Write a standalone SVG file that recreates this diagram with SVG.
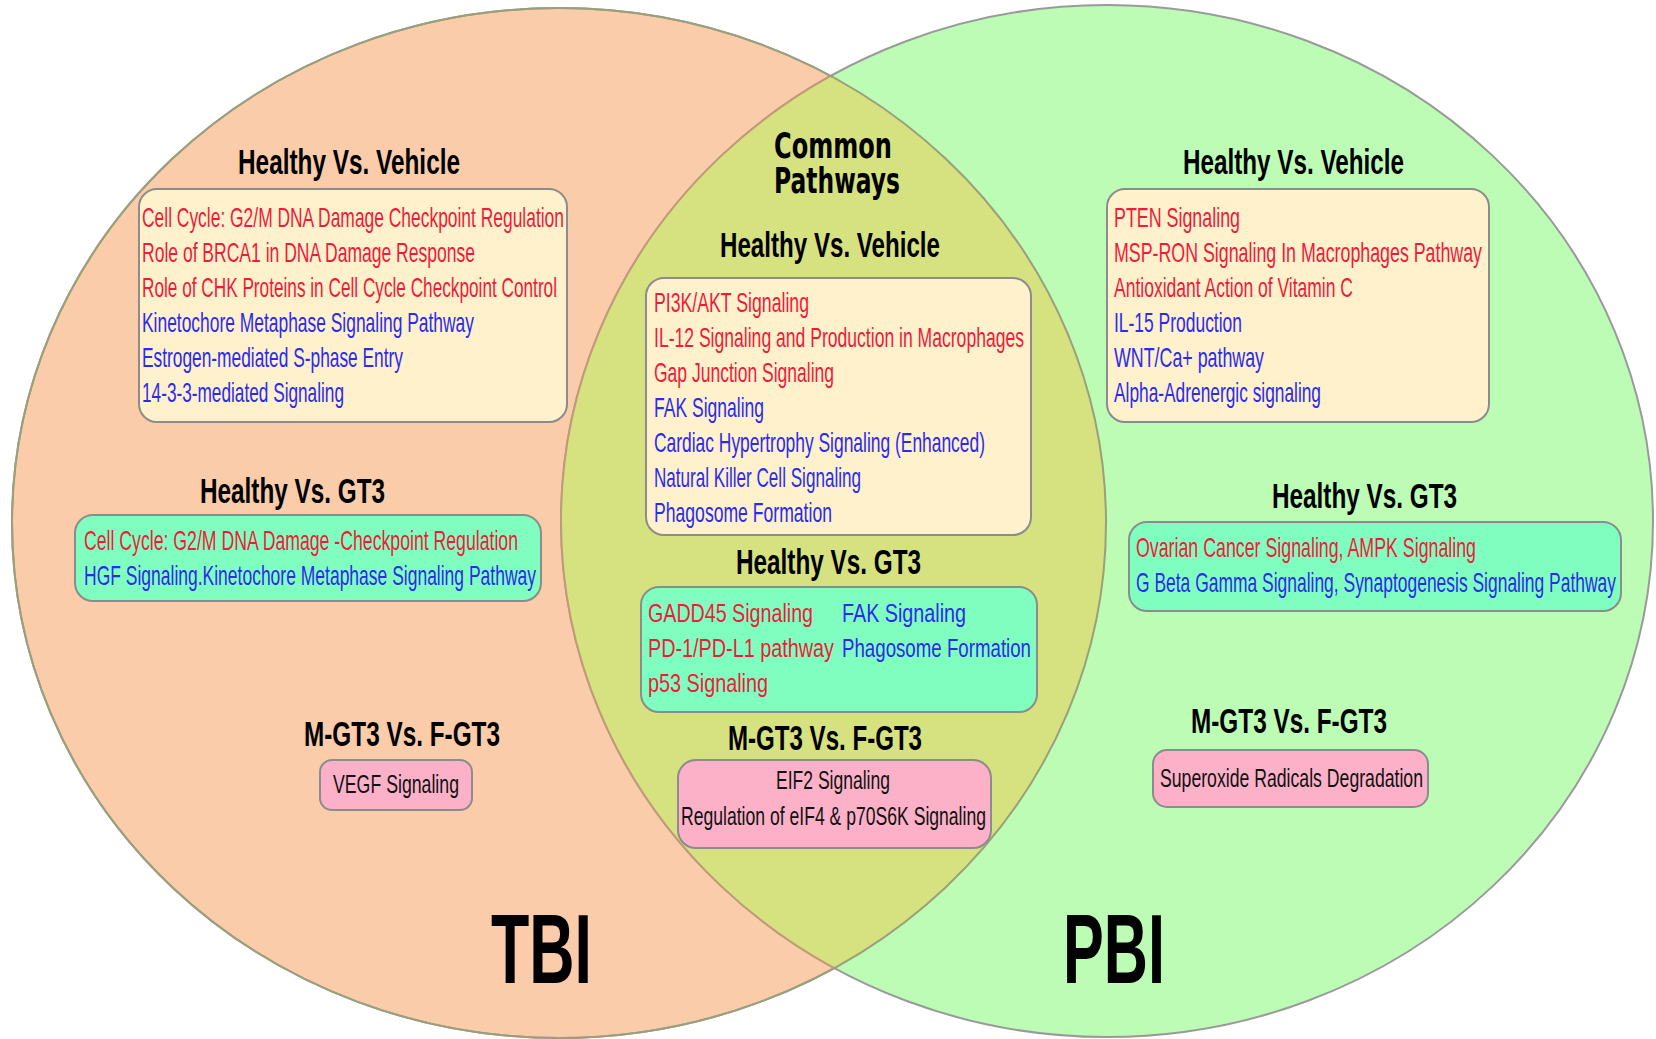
<svg xmlns="http://www.w3.org/2000/svg" width="1656" height="1039" viewBox="0 0 1656 1039">
  <defs>
    <clipPath id="clipTbi">
      <ellipse cx="559" cy="523" rx="547" ry="515"/>
    </clipPath>
    <style>
      .title { font-family: "Liberation Sans", Arial, sans-serif; font-weight: bold; font-size: 35px; fill: #000; }
      .big { font-family: "Liberation Sans", Arial, sans-serif; font-weight: bold; font-size: 98px; fill: #000; }
      .common { font-family: "DejaVu Sans", "Liberation Sans", sans-serif; font-weight: bold; font-size: 36px; fill: #000; }
      .item { font-family: "Liberation Sans", Arial, sans-serif; font-size: 28px; }
      .item2 { font-family: "Liberation Sans", Arial, sans-serif; font-size: 25px; }
      .red { fill: #EE1B3B; }
      .blue { fill: #2B2BEE; }
      .black { fill: #111; }
      .box { stroke: #8C8C8C; stroke-width: 2; }
      .cream { fill: #FEF1CC; }
      .aqua { fill: #80FEC0; }
      .pink { fill: #FDB1C9; }
    </style>
  </defs>

  <rect width="1656" height="1039" fill="#FFFFFF"/>

  <!-- Venn sets -->
  <g id="set-tbi">
    <ellipse cx="559" cy="523" rx="547" ry="515" fill="#FBCCA9" stroke="#9A9A9A" stroke-width="2"/>
  </g>
  <g id="set-pbi">
    <ellipse cx="1107" cy="521" rx="546" ry="516" fill="#BCFCB5" stroke="#9A9A9A" stroke-width="2"/>
  </g>
  <g id="set-common">
    <ellipse cx="1107" cy="521" rx="546" ry="516" fill="#D6E180" stroke="#C29A78" stroke-width="2" clip-path="url(#clipTbi)"/>
    <ellipse cx="559" cy="523" rx="547" ry="515" fill="none" stroke="#9AA07A" stroke-width="2"/>
  </g>

  <!-- TBI: Healthy Vs. Vehicle -->
  <g id="tbi-healthy-vehicle">
    <text class="title" x="238" y="174" textLength="222" lengthAdjust="spacingAndGlyphs">Healthy Vs. Vehicle</text>
    <rect class="box cream" x="139" y="189" width="428" height="233" rx="18"/>
    <text class="item red" x="142" y="227" textLength="422" lengthAdjust="spacingAndGlyphs">Cell Cycle: G2/M DNA Damage Checkpoint Regulation</text>
    <text class="item red" x="142" y="262" textLength="333" lengthAdjust="spacingAndGlyphs">Role of BRCA1 in DNA Damage Response</text>
    <text class="item red" x="142" y="297" textLength="415" lengthAdjust="spacingAndGlyphs">Role of CHK Proteins in Cell Cycle Checkpoint Control</text>
    <text class="item blue" x="142" y="332" textLength="332" lengthAdjust="spacingAndGlyphs">Kinetochore Metaphase Signaling Pathway</text>
    <text class="item blue" x="142" y="367" textLength="261" lengthAdjust="spacingAndGlyphs">Estrogen-mediated S-phase Entry</text>
    <text class="item blue" x="142" y="402" textLength="202" lengthAdjust="spacingAndGlyphs">14-3-3-mediated Signaling</text>
  </g>

  <!-- TBI: Healthy Vs. GT3 -->
  <g id="tbi-healthy-gt3">
    <text class="title" x="200" y="503" textLength="185" lengthAdjust="spacingAndGlyphs">Healthy Vs. GT3</text>
    <rect class="box aqua" x="75" y="515" width="466" height="86" rx="18"/>
    <text class="item red" x="84" y="550" textLength="434" lengthAdjust="spacingAndGlyphs">Cell Cycle: G2/M DNA Damage -Checkpoint Regulation</text>
    <text class="item blue" x="84" y="585" textLength="452" lengthAdjust="spacingAndGlyphs">HGF Signaling.Kinetochore Metaphase Signaling Pathway</text>
  </g>

  <!-- TBI: M-GT3 Vs. F-GT3 -->
  <g id="tbi-male-female">
    <text class="title" x="304" y="746" textLength="196" lengthAdjust="spacingAndGlyphs">M-GT3 Vs. F-GT3</text>
    <rect class="box pink" x="320" y="760" width="152" height="50" rx="12"/>
    <text class="item2 black" x="333" y="793" textLength="126" lengthAdjust="spacingAndGlyphs">VEGF Signaling</text>
  </g>

  <!-- Common pathways -->
  <g id="common-heading">
    <text class="common" x="774" y="158" textLength="118" lengthAdjust="spacingAndGlyphs">Common</text>
    <text class="common" x="774" y="193" textLength="126" lengthAdjust="spacingAndGlyphs">Pathways</text>
  </g>

  <g id="common-healthy-vehicle">
    <text class="title" x="720" y="257" textLength="220" lengthAdjust="spacingAndGlyphs">Healthy Vs. Vehicle</text>
    <rect class="box cream" x="646" y="278" width="385" height="257" rx="18"/>
    <text class="item red" x="654" y="312" textLength="155" lengthAdjust="spacingAndGlyphs">PI3K/AKT Signaling</text>
    <text class="item red" x="654" y="347" textLength="370" lengthAdjust="spacingAndGlyphs">IL-12 Signaling and Production in Macrophages</text>
    <text class="item red" x="654" y="382" textLength="180" lengthAdjust="spacingAndGlyphs">Gap Junction Signaling</text>
    <text class="item blue" x="654" y="417" textLength="110" lengthAdjust="spacingAndGlyphs">FAK Signaling</text>
    <text class="item blue" x="654" y="452" textLength="331" lengthAdjust="spacingAndGlyphs">Cardiac Hypertrophy Signaling (Enhanced)</text>
    <text class="item blue" x="654" y="487" textLength="207" lengthAdjust="spacingAndGlyphs">Natural Killer Cell Signaling</text>
    <text class="item blue" x="654" y="522" textLength="178" lengthAdjust="spacingAndGlyphs">Phagosome Formation</text>
  </g>

  <g id="common-healthy-gt3">
    <text class="title" x="736" y="574" textLength="185" lengthAdjust="spacingAndGlyphs">Healthy Vs. GT3</text>
    <rect class="box aqua" x="641" y="587" width="396" height="125" rx="18"/>
    <text class="item2 red" x="648" y="622" textLength="165" lengthAdjust="spacingAndGlyphs">GADD45 Signaling</text>
    <text class="item2 red" x="648" y="657" textLength="186" lengthAdjust="spacingAndGlyphs">PD-1/PD-L1 pathway</text>
    <text class="item2 red" x="648" y="692" textLength="120" lengthAdjust="spacingAndGlyphs">p53 Signaling</text>
    <text class="item2 blue" x="842" y="622" textLength="124" lengthAdjust="spacingAndGlyphs">FAK Signaling</text>
    <text class="item2 blue" x="842" y="657" textLength="189" lengthAdjust="spacingAndGlyphs">Phagosome Formation</text>
  </g>

  <g id="common-male-female">
    <text class="title" x="728" y="750" textLength="194" lengthAdjust="spacingAndGlyphs">M-GT3 Vs. F-GT3</text>
    <rect class="box pink" x="678" y="760" width="313" height="88" rx="18"/>
    <text class="item2 black" x="776" y="789" textLength="114" lengthAdjust="spacingAndGlyphs">EIF2 Signaling</text>
    <text class="item2 black" x="681" y="825" textLength="305" lengthAdjust="spacingAndGlyphs">Regulation of eIF4 &amp; p70S6K Signaling</text>
  </g>

  <!-- PBI: Healthy Vs. Vehicle -->
  <g id="pbi-healthy-vehicle">
    <text class="title" x="1183" y="174" textLength="221" lengthAdjust="spacingAndGlyphs">Healthy Vs. Vehicle</text>
    <rect class="box cream" x="1107" y="189" width="382" height="233" rx="18"/>
    <text class="item red" x="1114" y="227" textLength="126" lengthAdjust="spacingAndGlyphs">PTEN Signaling</text>
    <text class="item red" x="1114" y="262" textLength="368" lengthAdjust="spacingAndGlyphs">MSP-RON Signaling In Macrophages Pathway</text>
    <text class="item red" x="1114" y="297" textLength="239" lengthAdjust="spacingAndGlyphs">Antioxidant Action of Vitamin C</text>
    <text class="item blue" x="1114" y="332" textLength="128" lengthAdjust="spacingAndGlyphs">IL-15 Production</text>
    <text class="item blue" x="1114" y="367" textLength="150" lengthAdjust="spacingAndGlyphs">WNT/Ca+ pathway</text>
    <text class="item blue" x="1114" y="402" textLength="207" lengthAdjust="spacingAndGlyphs">Alpha-Adrenergic signaling</text>
  </g>

  <!-- PBI: Healthy Vs. GT3 -->
  <g id="pbi-healthy-gt3">
    <text class="title" x="1272" y="508" textLength="185" lengthAdjust="spacingAndGlyphs">Healthy Vs. GT3</text>
    <rect class="box aqua" x="1129" y="522" width="492" height="89" rx="18"/>
    <text class="item red" x="1136" y="557" textLength="340" lengthAdjust="spacingAndGlyphs">Ovarian Cancer Signaling,  AMPK Signaling</text>
    <text class="item blue" x="1136" y="592" textLength="480" lengthAdjust="spacingAndGlyphs">G Beta Gamma Signaling, Synaptogenesis Signaling Pathway</text>
  </g>

  <!-- PBI: M-GT3 Vs. F-GT3 -->
  <g id="pbi-male-female">
    <text class="title" x="1191" y="733" textLength="196" lengthAdjust="spacingAndGlyphs">M-GT3 Vs. F-GT3</text>
    <rect class="box pink" x="1153" y="750" width="275" height="57" rx="14"/>
    <text class="item2 black" x="1160" y="787" textLength="263" lengthAdjust="spacingAndGlyphs">Superoxide Radicals Degradation</text>
  </g>

  <!-- Set labels -->
  <g id="label-tbi">
    <text class="big" x="491" y="983" textLength="101" lengthAdjust="spacingAndGlyphs">TBI</text>
  </g>
  <g id="label-pbi">
    <text class="big" x="1063" y="983" textLength="102" lengthAdjust="spacingAndGlyphs">PBI</text>
  </g>
</svg>
